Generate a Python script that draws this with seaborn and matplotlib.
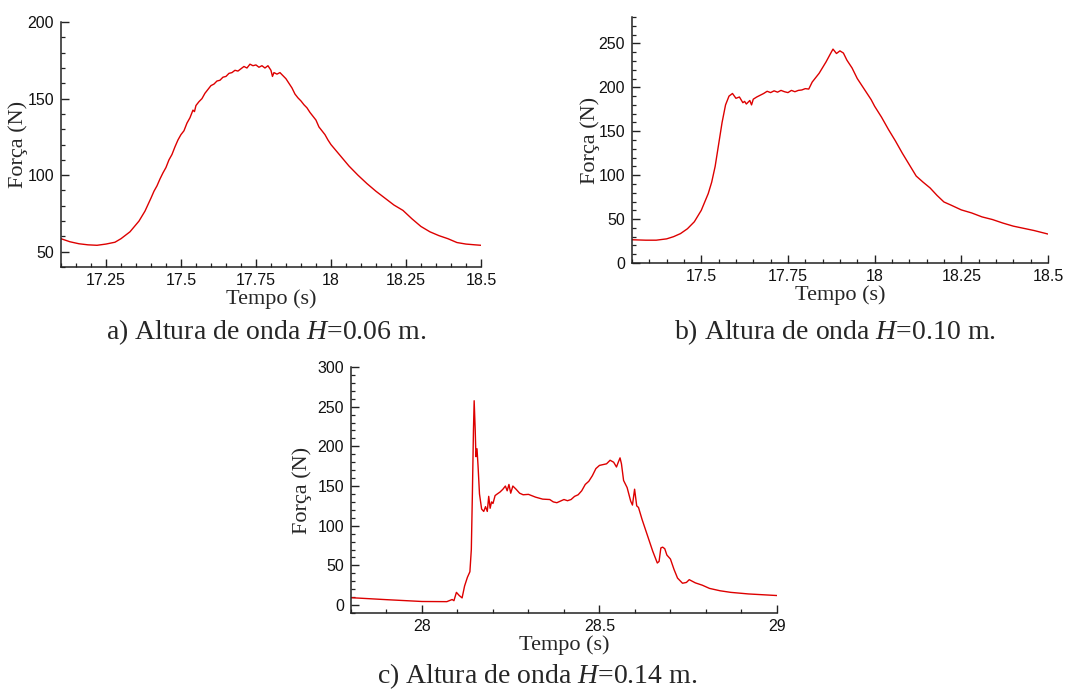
import numpy as np
import pandas as pd
import seaborn as sns
import matplotlib
matplotlib.use("Agg")
import matplotlib.pyplot as plt
from matplotlib.ticker import MultipleLocator

# a) H=0.06 m
t_a = [17.10, 17.13, 17.16, 17.19, 17.22, 17.25, 17.28, 17.30, 17.33, 17.36,
       17.38, 17.40, 17.41, 17.42, 17.43, 17.44, 17.45, 17.46, 17.47, 17.48,
       17.49, 17.50, 17.51, 17.52, 17.53, 17.54, 17.545, 17.55, 17.56, 17.57,
       17.58, 17.59, 17.60, 17.61, 17.62, 17.63, 17.64, 17.65, 17.66, 17.67,
       17.68, 17.69, 17.70, 17.71, 17.72, 17.73, 17.74, 17.75, 17.76, 17.77,
       17.78, 17.79, 17.80, 17.805, 17.81, 17.82, 17.83, 17.84, 17.85, 17.86,
       17.87, 17.88, 17.89, 17.90, 17.91, 17.92, 17.93, 17.94, 17.95, 17.96,
       17.97, 17.98, 17.99, 18.00, 18.03, 18.06, 18.09, 18.12, 18.15, 18.18,
       18.21, 18.24, 18.27, 18.30, 18.33, 18.36, 18.39, 18.42, 18.45, 18.48,
       18.50]
f_a = [58.5, 56.5, 55.2, 54.5, 54.2, 55.0, 56.2, 58.5, 63.0, 70.0,
       76.5, 85.0, 89.5, 93.0, 97.5, 101.5, 105.0, 110.0, 113.5, 118.5,
       123.0, 126.5, 129.0, 134.0, 137.5, 142.5, 141.5, 145.5, 148.0, 150.0,
       153.5, 156.0, 158.5, 159.5, 161.5, 162.0, 164.0, 164.5, 166.5, 167.0,
       168.5, 168.0, 169.5, 171.0, 170.0, 172.5, 171.5, 172.0, 170.5, 171.5,
       170.0, 171.5, 168.5, 164.5, 167.0, 166.0, 167.0, 165.0, 163.0, 160.0,
       157.0, 153.0, 150.5, 148.5, 146.0, 144.0, 141.0, 138.5, 136.0, 131.5,
       129.0, 126.5, 123.0, 120.0, 113.0, 106.0, 100.0, 94.5, 89.5, 85.0,
       80.5, 77.0, 71.5, 66.5, 63.0, 60.5, 58.5, 56.0, 55.0, 54.5,
       54.2]

# b) H=0.10 m
t_b = [17.30, 17.34, 17.37, 17.40, 17.42, 17.44, 17.46, 17.48, 17.50, 17.52,
       17.53, 17.54, 17.55, 17.56, 17.57, 17.58, 17.59, 17.60, 17.61, 17.62,
       17.625, 17.63, 17.64, 17.645, 17.65, 17.66, 17.68, 17.69, 17.70, 17.71,
       17.72, 17.73, 17.74, 17.75, 17.76, 17.77, 17.78, 17.79, 17.80, 17.81,
       17.82, 17.84, 17.86, 17.875, 17.88, 17.885, 17.89, 17.90, 17.91, 17.92,
       17.935, 17.95, 17.97, 17.99, 18.00, 18.02, 18.04, 18.06, 18.08, 18.10,
       18.12, 18.14, 18.16, 18.18, 18.20, 18.22, 18.25, 18.28, 18.31, 18.34,
       18.37, 18.40, 18.43, 18.46, 18.50]
f_b = [26.5, 26.0, 26.0, 27.5, 30.0, 33.5, 39.0, 47.0, 60.0, 79.0,
       92.0, 110.0, 135.0, 160.0, 180.0, 190.0, 193.0, 187.5, 189.0, 182.5,
       184.0, 181.0, 185.0, 180.0, 186.5, 189.0, 193.0, 195.5, 194.0, 196.0,
       194.5, 196.5, 195.0, 194.0, 196.5, 195.0, 196.5, 197.0, 198.5, 198.0,
       206.0, 216.0, 229.0, 240.0, 243.5, 241.0, 238.5, 241.5, 239.0, 231.0,
       222.0, 210.0, 198.0, 186.0, 178.5, 166.0, 152.0, 139.0, 125.0, 112.0,
       99.0, 92.0, 85.5, 77.0, 69.5, 66.0, 60.5, 57.0, 52.5, 49.5,
       45.5, 42.0, 39.5, 37.0, 33.0]

# c) H=0.14 m
t_c = [27.80, 27.90, 28.00, 28.07, 28.085, 28.09, 28.097, 28.105, 28.113, 28.12,
       28.128, 28.135, 28.139, 28.142, 28.145, 28.147, 28.150, 28.152, 28.155, 28.158,
       28.162, 28.168, 28.174, 28.179, 28.184, 28.188, 28.192, 28.196, 28.200, 28.206,
       28.212, 28.220, 28.228, 28.235, 28.240, 28.245, 28.250, 28.256, 28.265, 28.275,
       28.285, 28.30, 28.32, 28.34, 28.36, 28.37, 28.38, 28.39, 28.40, 28.41,
       28.42, 28.43, 28.44, 28.45, 28.46, 28.47, 28.48, 28.49, 28.50, 28.51,
       28.52, 28.53, 28.54, 28.548, 28.553, 28.558, 28.562, 28.568, 28.578, 28.588,
       28.593, 28.599, 28.605, 28.610, 28.62, 28.635, 28.65, 28.663, 28.668, 28.673,
       28.678, 28.684, 28.690, 28.70, 28.71, 28.72, 28.734, 28.745, 28.753, 28.77,
       28.79, 28.81, 28.84, 28.87, 28.92, 28.96, 29.00]
f_c = [9.3, 6.8, 4.5, 4.3, 7.0, 5.5, 16.0, 12.0, 9.0, 24.0,
       35.0, 42.0, 70.0, 140.0, 220.0, 257.5, 220.0, 187.0, 197.0, 175.0,
       140.0, 121.0, 118.0, 124.0, 118.0, 137.0, 122.0, 130.0, 128.0, 138.0,
       140.0, 142.5, 146.0, 150.0, 144.0, 152.0, 141.0, 150.0, 146.0, 141.0,
       139.0, 139.5, 136.0, 133.5, 133.0, 130.0, 129.0, 131.0, 133.0, 131.5,
       133.0, 137.0, 139.0, 144.0, 152.0, 156.0, 163.0, 172.0, 176.0, 177.0,
       178.0, 182.5, 180.0, 174.0, 180.0, 185.5, 178.0, 157.0, 148.0, 131.0,
       126.0, 146.0, 125.0, 123.0, 108.0, 88.0, 68.0, 53.0, 55.0, 72.0,
       73.0, 71.0, 63.0, 58.0, 45.0, 34.0, 27.5, 28.5, 32.0, 28.0,
       25.0, 21.0, 18.0, 16.0, 14.0, 13.0, 12.0]

captions = ["a) Altura de onda $H$=0.06 m.",
            "b) Altura de onda $H$=0.10 m.",
            "c) Altura de onda $H$=0.14 m."]

sns.set_style("ticks")
plt.rcParams['font.family'] = ['Liberation Sans', 'DejaVu Sans']
plt.rcParams['mathtext.fontset'] = 'custom'
plt.rcParams['mathtext.it'] = 'Liberation Serif:italic'
plt.rcParams['mathtext.rm'] = 'Liberation Serif'

fig = plt.figure(figsize=(10.81, 6.90), dpi=100)

panels = [
    # t, f, axes rect, xlim, ylim, x major/minor, y major/minor, ylabel x
    (t_a, f_a, [0.0564, 0.613, 0.3885, 0.355], (17.1, 18.5), (40, 200), 0.25, 0.05, 50, 10, -0.078),
    (t_b, f_b, [0.5846, 0.6188, 0.3848, 0.3565], (17.3, 18.5), (0, 280), 0.25, 0.05, 50, 10, -0.077),
    (t_c, f_c, [0.3247, 0.1116, 0.394, 0.3565], (27.8, 29.0), (-10, 300), 0.5, 0.1, 50, 10, -0.092),
]

serif = ['Liberation Serif', 'DejaVu Serif']
for t, f, rect, xl, yl, xmaj, xmin, ymaj, ymin, ylx in panels:
    ax = fig.add_axes(rect)
    df = pd.DataFrame({"Tempo": t, "Forca": f})
    sns.lineplot(data=df, x="Tempo", y="Forca", ax=ax, color="#dd0000",
                 lw=1.0, estimator=None, sort=False)
    ax.set_xlim(*xl)
    ax.set_ylim(*yl)
    ax.xaxis.set_major_locator(MultipleLocator(xmaj))
    ax.xaxis.set_minor_locator(MultipleLocator(xmin))
    ax.yaxis.set_major_locator(MultipleLocator(ymaj))
    ax.yaxis.set_minor_locator(MultipleLocator(ymin))
    ax.xaxis.set_major_formatter(plt.FuncFormatter(lambda v, p: f"{v:g}"))
    ax.yaxis.set_major_formatter(plt.FuncFormatter(lambda v, p: f"{v:g}"))
    ax.tick_params(which='major', direction='in', length=5.5, width=1.0,
                   labelsize=11.5, color='#222222', labelcolor='#111111', pad=5)
    ax.tick_params(axis='x', which='major', pad=4)
    ax.tick_params(which='minor', direction='in', length=3.2, width=0.9, color='#222222')
    for s in ['top', 'right']:
        ax.spines[s].set_visible(False)
    for s in ['left', 'bottom']:
        ax.spines[s].set_linewidth(1.1)
        ax.spines[s].set_color('#222222')
    ax.set_xlabel("Tempo (s)", fontsize=16, family=serif)
    ax.set_ylabel("Força (N)", fontsize=16, family=serif)
    ax.xaxis.set_label_coords(0.5, -0.092)
    ax.yaxis.set_label_coords(ylx, 0.5)

fig.text(266 / 1081, 1 - 339 / 690, captions[0], fontsize=20, family=serif, ha='center', va='baseline')
fig.text(835 / 1081, 1 - 339 / 690, captions[1], fontsize=20, family=serif, ha='center', va='baseline')
fig.text(537 / 1081, 1 - 683 / 690, captions[2], fontsize=20, family=serif, ha='center', va='baseline')

fig.savefig("out.png", dpi=100)
